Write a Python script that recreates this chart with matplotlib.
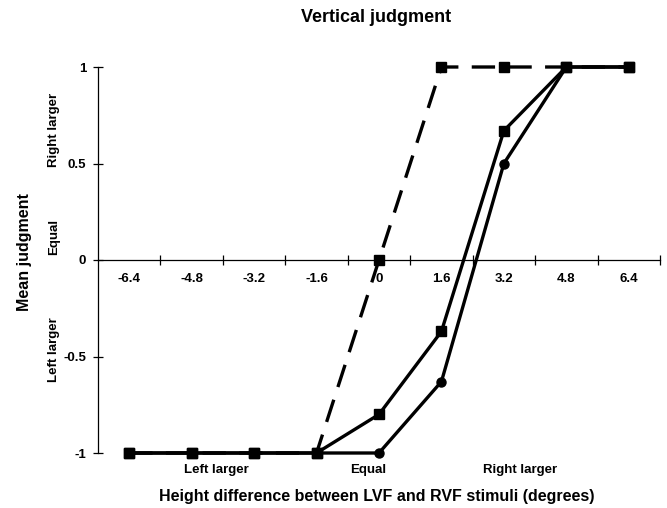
import matplotlib as mpl
mpl.use('agg')
import matplotlib.pyplot as plt
from matplotlib.ticker import FixedLocator

plt.rcParams['font.family'] = ['Liberation Sans', 'DejaVu Sans']
plt.rcParams['font.weight'] = 'bold'

categories = ['-6.4', '-4.8', '-3.2', '-1.6', '0', '1.6', '3.2', '4.8', '6.4']
dashed_sq = [-1, -1, -1, -1, 0, 1, 1, 1, 1]
solid_sq = [-1, -1, -1, -1, -0.8, -0.37, 0.67, 1, 1]
solid_circ = [-1, -1, -1, -1, -1, -0.63, 0.5, 1, 1]
yticks = [-1, -0.5, 0, 0.5, 1]
ytick_labels = ['-1', '-0.5', '0', '0.5', '1']

fig = plt.figure(figsize=(6.67, 5.08), dpi=100)
ax = fig.add_axes([98/667, 1-453/508, 562/667, 386/508])

idx = list(range(len(categories)))
ax.plot(idx, solid_circ, color='black', lw=2.4, marker='o', ms=6.5, clip_on=False, zorder=3)
ax.plot(idx, dashed_sq, color='black', lw=2.4, dashes=(7, 4), marker='s', ms=7, clip_on=False, zorder=4)
ax.plot(idx, solid_sq, color='black', lw=2.4, marker='s', ms=7, clip_on=False, zorder=5)

ax.set_xlim(-0.5, 8.5)
ax.set_ylim(-1, 1)
ax.spines['top'].set_visible(False)
ax.spines['right'].set_visible(False)
ax.spines['bottom'].set_position(('data', 0))
ax.spines['bottom'].set_linewidth(0.9)
ax.spines['left'].set_linewidth(0.9)

ax.set_xticks(idx)
ax.set_xticklabels(categories, fontsize=9.5, fontweight='bold')
ax.xaxis.set_minor_locator(FixedLocator([i + 0.5 for i in idx]))
ax.tick_params(axis='x', which='major', length=0, pad=9)
ax.tick_params(axis='x', which='minor', direction='inout', length=7, width=0.9)

ax.set_yticks(yticks)
ax.set_yticklabels(ytick_labels, fontsize=9.5, fontweight='bold')
ax.tick_params(axis='y', direction='inout', length=7, width=0.9, pad=5)

fig.text(376/667, 1-18/508, 'Vertical judgment', ha='center', va='center', fontsize=13, fontweight='bold')
fig.text(377/667, 1-496/508, 'Height difference between LVF and RVF stimuli (degrees)',
         ha='center', va='center', fontsize=11.5, fontweight='bold')
fig.text(25/667, 1-252/508, 'Mean judgment', rotation=90, ha='center', va='center', fontsize=11.5, fontweight='bold')

for label, ypix in [('Right larger', 130), ('Equal', 237), ('Left larger', 350)]:
    fig.text(54/667, 1-ypix/508, label, rotation=90, ha='center', va='center', fontsize=9.5, fontweight='bold')
for label, xpix in [('Left larger', 216), ('Equal', 368), ('Right larger', 520)]:
    fig.text(xpix/667, 1-470/508, label, ha='center', va='center', fontsize=9.5, fontweight='bold')

plt.savefig('out.png', dpi=100)
